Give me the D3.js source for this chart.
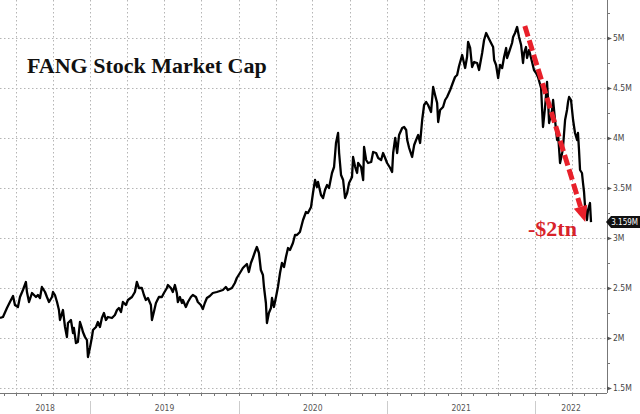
<!DOCTYPE html>
<html>
<head>
<meta charset="utf-8">
<script src="https://cdn.jsdelivr.net/npm/d3@7"></script>
<style>
body{margin:0;background:#fff;}
svg{display:block;}
.grid line{stroke:#b5b5b5;stroke-width:1;stroke-dasharray:1.5,2.5;}
.ylab{font-family:"Liberation Sans Narrow","DejaVu Sans Condensed",sans-serif;font-size:8.5px;fill:#444;}
.xlab{font-family:"Liberation Sans Narrow","DejaVu Sans Condensed",sans-serif;font-size:8.5px;fill:#555;}
.tag{font-family:"Liberation Sans Narrow","DejaVu Sans Condensed",sans-serif;font-size:8px;fill:#fff;}
</style>
</head>
<body>
<svg id="myGraph" width="640" height="414"></svg>
<script>
// FANG market cap (decimal year, value in M)
var years = [2018.389,2018.409,2018.436,2018.456,2018.477,2018.490,2018.510,2018.524,2018.544,2018.564,
2018.571,2018.585,2018.605,2018.632,2018.645,2018.659,2018.672,2018.693,2018.706,2018.720,
2018.740,2018.747,2018.760,2018.774,2018.787,2018.794,2018.814,2018.828,2018.841,2018.848,
2018.868,2018.882,2018.888,2018.902,2018.915,2018.929,2018.942,2018.949,2018.963,2018.976,
2018.983,2018.996,2019.010,2019.017,2019.037,2019.050,2019.064,2019.077,2019.091,2019.104,
2019.118,2019.145,2019.165,2019.179,2019.192,2019.206,2019.219,2019.239,2019.253,2019.280,
2019.300,2019.313,2019.327,2019.347,2019.361,2019.374,2019.388,2019.408,2019.415,2019.428,
2019.442,2019.462,2019.482,2019.496,2019.516,2019.523,2019.543,2019.556,2019.570,2019.583,
2019.590,2019.604,2019.617,2019.624,2019.644,2019.658,2019.678,2019.691,2019.712,2019.725,
2019.745,2019.759,2019.772,2019.786,2019.806,2019.826,2019.853,2019.874,2019.894,2019.914,
2019.928,2019.955,2019.975,2019.988,2020.009,2020.029,2020.042,2020.056,2020.069,2020.083,
2020.096,2020.110,2020.123,2020.137,2020.150,2020.164,2020.171,2020.184,2020.191,2020.204,
2020.218,2020.225,2020.238,2020.252,2020.265,2020.279,2020.292,2020.306,2020.319,2020.333,
2020.346,2020.366,2020.380,2020.393,2020.413,2020.434,2020.454,2020.467,2020.488,2020.501,
2020.515,2020.528,2020.535,2020.555,2020.569,2020.582,2020.596,2020.609,2020.629,2020.643,
2020.656,2020.670,2020.677,2020.690,2020.704,2020.717,2020.731,2020.744,2020.764,2020.771,
2020.785,2020.798,2020.805,2020.825,2020.839,2020.845,2020.859,2020.872,2020.893,2020.906,
2020.926,2020.940,2020.960,2020.973,2020.987,2021.000,2021.021,2021.034,2021.041,2021.055,
2021.068,2021.081,2021.102,2021.115,2021.129,2021.136,2021.149,2021.169,2021.183,2021.196,
2021.210,2021.223,2021.237,2021.250,2021.264,2021.277,2021.297,2021.311,2021.324,2021.338,
2021.345,2021.358,2021.378,2021.392,2021.405,2021.426,2021.446,2021.459,2021.473,2021.486,
2021.507,2021.527,2021.540,2021.547,2021.561,2021.574,2021.588,2021.608,2021.621,2021.642,
2021.655,2021.669,2021.682,2021.702,2021.716,2021.723,2021.736,2021.750,2021.763,2021.777,
2021.790,2021.804,2021.810,2021.824,2021.844,2021.851,2021.864,2021.878,2021.891,2021.905,
2021.918,2021.925,2021.938,2021.945,2021.959,2021.979,2021.992,2022.006,2022.019,2022.040,
2022.047,2022.053,2022.067,2022.080,2022.087,2022.094,2022.114,2022.121,2022.134,2022.148,
2022.155,2022.168,2022.182,2022.188,2022.202,2022.215,2022.222,2022.229,2022.242,2022.249,
2022.256,2022.269,2022.283,2022.289,2022.296,2022.303,2022.316,2022.323,2022.330,2022.337,
2022.350,2022.357,2022.370,2022.377];
var caps = [2.20,2.21,2.30,2.36,2.42,2.33,2.31,2.41,2.48,2.56,
2.46,2.36,2.45,2.41,2.43,2.40,2.51,2.46,2.41,2.36,
2.41,2.46,2.43,2.36,2.28,2.18,2.28,2.11,2.01,2.15,
2.18,2.05,2.10,1.95,1.96,2.16,2.10,2.06,2.01,1.98,
1.81,1.90,2.01,2.08,2.11,2.16,2.11,2.20,2.25,2.18,
2.21,2.20,2.23,2.28,2.30,2.26,2.36,2.33,2.38,2.41,
2.46,2.56,2.50,2.50,2.43,2.38,2.40,2.33,2.18,2.26,
2.35,2.41,2.41,2.45,2.50,2.53,2.50,2.46,2.53,2.45,
2.36,2.41,2.35,2.38,2.31,2.36,2.41,2.43,2.41,2.36,
2.33,2.29,2.35,2.40,2.42,2.45,2.46,2.47,2.48,2.51,
2.48,2.50,2.55,2.60,2.65,2.70,2.72,2.74,2.66,2.75,
2.80,2.86,2.91,2.85,2.68,2.63,2.51,2.35,2.15,2.25,
2.30,2.40,2.31,2.41,2.51,2.65,2.75,2.71,2.81,2.90,
2.88,2.95,3.03,3.03,3.06,3.18,3.26,3.25,3.31,3.45,
3.58,3.51,3.56,3.43,3.40,3.48,3.53,3.50,3.65,3.71,
3.95,4.05,3.85,3.63,3.58,3.40,3.45,3.55,3.61,3.81,
3.71,3.65,3.75,3.71,3.58,3.91,3.78,3.75,3.76,3.86,
3.85,3.80,3.78,3.85,3.80,3.75,3.70,3.66,3.85,4.00,
3.85,4.03,4.10,4.11,4.08,3.98,3.90,3.81,3.93,3.98,
4.03,3.95,4.18,4.33,4.36,4.33,4.26,4.51,4.43,4.35,
4.16,4.28,4.31,4.38,4.41,4.48,4.56,4.61,4.63,4.72,
4.83,4.70,4.81,4.96,4.90,4.71,4.76,4.75,4.68,4.85,
4.98,5.05,5.01,4.95,4.91,4.78,4.73,4.60,4.73,4.70,
4.81,4.90,4.80,4.86,4.95,5.01,5.05,5.11,5.01,4.93,
4.75,4.85,4.91,4.80,4.88,4.76,4.68,4.65,4.61,4.50,
4.28,4.11,4.31,4.56,4.38,4.15,4.28,4.38,4.18,3.98,
4.03,3.75,3.85,3.91,4.18,4.28,4.36,4.41,4.38,4.28,
4.18,4.05,3.98,4.05,3.88,3.68,3.65,3.55,3.46,3.31,
3.18,3.28,3.35,3.159];

var yTicks = [1.5,2,2.5,3,3.5,4,4.5,5];
var yTickLabels = ["1.5M","2M","2.5M","3M","3.5M","4M","4.5M","5M"];
var yearLabels = ["2018","2019","2020","2021","2022"];
var xStart = 2018.389, xEnd = 2022.485;   // visible time span
var yMin = 1.45, yMax = 5.38;
var lastLabel = "3.159M";
var arrowFrom = [2021.930, 5.12], arrowTo = [2022.338, 3.16];

window.addEventListener("load",function(){

	function toDate(t){
		var y = Math.floor(t);
		var a = new Date(y,0,1), b = new Date(y+1,0,1);
		return new Date(+a + (t-y)*(b-a));
	}

	var svg = d3.select("#myGraph");
	var plotW = 607, plotH = 393;

	var x = d3.scaleTime().domain([toDate(xStart),toDate(xEnd)]).range([0,plotW]);
	var y = d3.scaleLinear().domain([yMin,yMax]).range([plotH,0]);

	var data = years.map(function(t,i){ return {date:toDate(t), v:caps[i]}; });

	// grid
	var grid = svg.append("g").attr("class","grid");
	grid.selectAll(".hg").data(yTicks).enter().append("line")
		.attr("x1",0).attr("x2",plotW)
		.attr("y1",function(d){return Math.round(y(d))+0.5;})
		.attr("y2",function(d){return Math.round(y(d))+0.5;});
	var quarters = d3.timeMonth.every(3).range(x.domain()[0],x.domain()[1]);
	grid.selectAll(".vg").data(quarters).enter().append("line")
		.attr("x1",function(d){return Math.round(x(d))+0.5;})
		.attr("x2",function(d){return Math.round(x(d))+0.5;})
		.attr("y1",0).attr("y2",plotH);

	// right axis
	svg.append("line").attr("x1",plotW+0.5).attr("x2",plotW+0.5).attr("y1",0).attr("y2",plotH)
		.attr("stroke","#777").attr("stroke-width",1);
	var minor = d3.range(1.5,5.4,0.25);
	svg.selectAll(".mt").data(minor).enter().append("line")
		.attr("x1",plotW).attr("x2",plotW+3)
		.attr("y1",function(d){return Math.round(y(d))+0.5;})
		.attr("y2",function(d){return Math.round(y(d))+0.5;})
		.attr("stroke","#777");
	svg.selectAll(".mk").data(yTicks).enter().append("path")
		.attr("d",function(d){var yy=Math.round(y(d))+0.5;return "M"+plotW+","+(yy-2)+"L"+(plotW+5)+","+yy+"L"+plotW+","+(yy+2)+"Z";})
		.attr("fill","#555");
	svg.selectAll(".ylab").data(yTicks).enter().append("text")
		.attr("class","ylab")
		.attr("x",plotW+6)
		.attr("y",function(d){return y(d)+3;})
		.text(function(d,i){return yTickLabels[i];});

	// bottom axis
	svg.append("line").attr("x1",0).attr("x2",plotW).attr("y1",plotH+0.5).attr("y2",plotH+0.5)
		.attr("stroke","#777");
	var months = d3.timeMonth.range(x.domain()[0],x.domain()[1]);
	svg.selectAll(".xt").data(months).enter().append("line")
		.attr("x1",function(d){return Math.round(x(d))+0.5;})
		.attr("x2",function(d){return Math.round(x(d))+0.5;})
		.attr("y1",plotH).attr("y2",plotH+3)
		.attr("stroke","#777");
	var yearStarts = yearLabels.map(function(s){return new Date(+s,0,1);});
	svg.selectAll(".ys").data(yearStarts.slice(1)).enter().append("line")
		.attr("x1",function(d){return Math.round(x(d))+0.5;})
		.attr("x2",function(d){return Math.round(x(d))+0.5;})
		.attr("y1",plotH+8).attr("y2",414)
		.attr("stroke","#ccc");
	svg.selectAll(".xlab").data(yearStarts).enter().append("text")
		.attr("class","xlab")
		.attr("text-anchor","middle")
		.attr("x",function(d){
			var a = Math.max(0,x(d)), b = Math.min(plotW,x(new Date(d.getFullYear()+1,0,1)));
			return (a+b)/2;
		})
		.attr("y",411)
		.text(function(d,i){return yearLabels[i];});

	// line
	var line = d3.line().x(function(d){return x(d.date);}).y(function(d){return y(d.v);});
	svg.append("path").datum(data)
		.attr("d",line)
		.attr("fill","none")
		.attr("stroke","#000")
		.attr("stroke-width",2.3)
		.attr("stroke-linejoin","round");

	// last value tag
	var ly = y(caps[caps.length-1]);
	svg.append("path")
		.attr("d","M"+(plotW-1)+","+ly+"L"+(plotW+4)+","+(ly-6)+"H640V"+(ly+6)+"H"+(plotW+4)+"Z")
		.attr("fill","#111");
	svg.append("text").attr("class","tag")
		.attr("x",638).attr("y",ly+3)
		.attr("text-anchor","end")
		.text(lastLabel);

	// title
	svg.append("text")
		.attr("x",27).attr("y",73)
		.style("font-family","'Liberation Serif','DejaVu Serif',serif")
		.style("font-weight","bold")
		.style("font-size","22px")
		.style("fill","#111")
		.text("FANG Stock Market Cap");

	// red arrow
	var ax1 = x(toDate(arrowFrom[0])), ay1 = y(arrowFrom[1]);
	var ax2 = x(toDate(arrowTo[0])), ay2 = y(arrowTo[1]);
	var ang = Math.atan2(ay2-ay1,ax2-ax1);
	var headL = 16, headW = 7;
	var bx = ax2 - headL*Math.cos(ang), by = ay2 - headL*Math.sin(ang);
	svg.append("line")
		.attr("x1",ax1).attr("y1",ay1).attr("x2",bx).attr("y2",by)
		.attr("stroke","#e8202a").attr("stroke-width",5)
		.attr("stroke-dasharray","11,4");
	svg.append("path")
		.attr("d","M"+ax2+","+ay2+
			"L"+(bx+headW*Math.sin(ang))+","+(by-headW*Math.cos(ang))+
			"L"+(bx-headW*Math.sin(ang))+","+(by+headW*Math.cos(ang))+"Z")
		.attr("fill","#e8202a");

	svg.append("text")
		.attr("x",528).attr("y",236)
		.style("font-family","'Liberation Serif','DejaVu Serif',serif")
		.style("font-weight","bold")
		.style("font-size","22px")
		.style("fill","#d8232a")
		.text("-$2tn");

});
</script>
</body>
</html>
